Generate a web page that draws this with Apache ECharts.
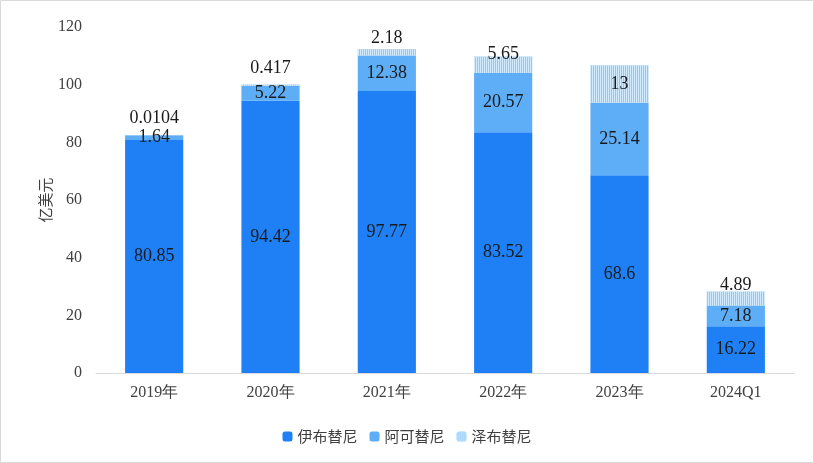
<!DOCTYPE html>
<html><head><meta charset="utf-8">
<script src="https://cdn.jsdelivr.net/npm/echarts@6/dist/echarts.min.js"></script>
<style>html,body{margin:0;padding:0;background:#fff}#c{width:814px;height:463px}</style>
</head><body><div id="c"></div>
<script>
const categories = ['2019年','2020年','2021年','2022年','2023年','2024Q1'];
const ibrutinib = [80.85, 94.42, 97.77, 83.52, 68.6, 16.22];
const acalabrutinib = [1.64, 5.22, 12.38, 20.57, 25.14, 7.18];
const zanubrutinib = [0.0104, 0.417, 2.18, 5.65, 13, 4.89];
const yTicks = [0, 20, 40, 60, 80, 100, 120];

const serif = '"Liberation Serif","Times New Roman",serif';
const sans = '"Noto Sans CJK SC","Noto Sans",sans-serif';
// label placement for top series (style only)
const topLabelStyle = [
  {position:'top', distance:8},
  {position:'top', distance:7},
  {position:'top', distance:2},
  {position:'inside', offset:[0,-10]},
  {position:'inside'},
  {position:'inside', offset:[0,-13]}
];
const chart = echarts.init(document.getElementById('c'));
const lbl = {show:true, position:'inside', fontFamily:serif, fontSize:18, color:'#1a1a1a'};
chart.setOption({
  animation:false,
  graphic:[{type:'rect', shape:{x:0.5,y:0.5,width:813,height:462}, style:{fill:'none', stroke:'#d9d9d9', lineWidth:1}, silent:true}],
  grid:{left:96, right:20, top:27, bottom:90},
  legend:{bottom:14, left:'center', itemWidth:10, itemHeight:10, itemGap:12,
    textStyle:{fontFamily:sans, fontSize:15, color:'#404040'},
    data:['伊布替尼','阿可替尼','泽布替尼']},
  xAxis:{type:'category', data:categories,
    axisLine:{lineStyle:{color:'#d9d9d9'}}, axisTick:{show:false},
    axisLabel:{fontFamily:serif, fontSize:16, color:'#404040', margin:12}},
  yAxis:{type:'value', min:yTicks[0], max:yTicks[yTicks.length-1], interval:20,
    name:'亿美元', nameLocation:'middle', nameGap:43, nameRotate:90, nameMoveOverlap:false,
    nameTextStyle:{fontFamily:sans, fontSize:15, color:'#404040'},
    axisLine:{show:false}, axisTick:{show:false}, splitLine:{show:false},
    axisLabel:{fontFamily:serif, fontSize:16, color:'#404040', margin:14}},
  series:[
    {name:'伊布替尼', type:'bar', stack:'a', barWidth:'50%', data:ibrutinib,
      itemStyle:{color:'#1F80F5'}, label:lbl},
    {name:'阿可替尼', type:'bar', stack:'a', data:acalabrutinib,
      itemStyle:{color:'#5DAEF7'}, label:lbl},
    {name:'泽布替尼', type:'bar', stack:'a', 
      data:zanubrutinib.map((v,i)=>({value:v, label:topLabelStyle[i]})),
      itemStyle:{color:'#8ECBF9', decal:{symbol:'rect', symbolSize:1, color:'rgba(255,255,255,0.6)', dashArrayX:[1,1], dashArrayY:[4,0], rotation:0}},
      label:Object.assign({}, lbl)}
  ]
});
</script></body></html>
